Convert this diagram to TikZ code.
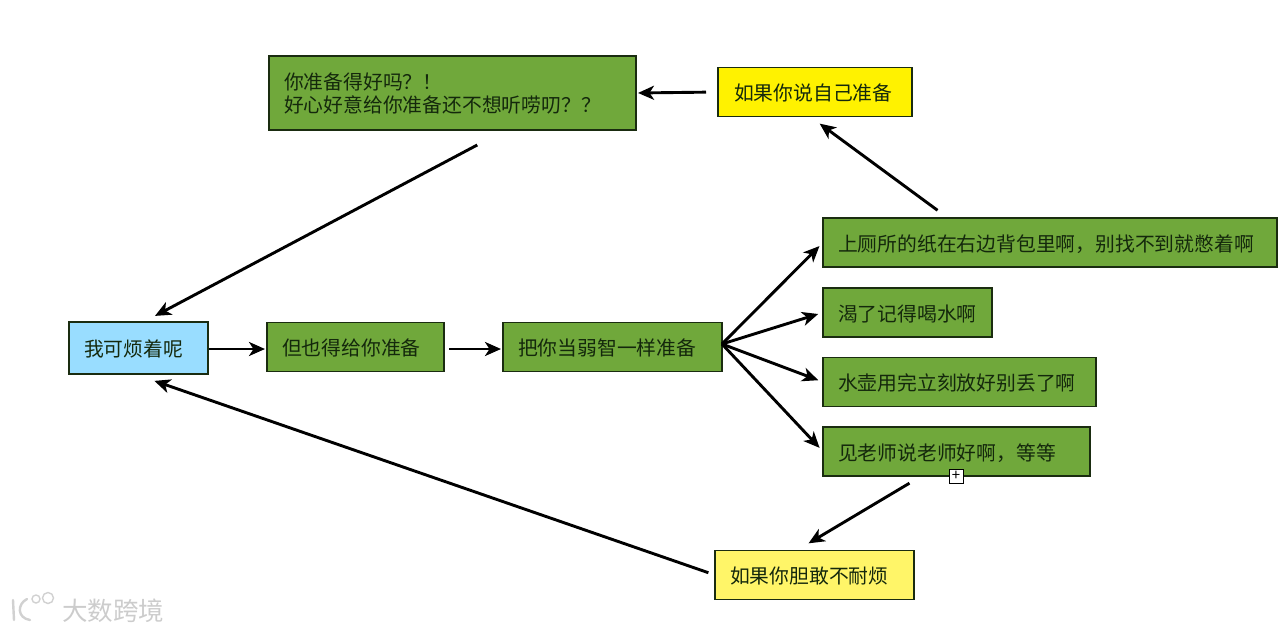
\documentclass[tikz,border=0pt]{standalone}
\usepackage{fontspec}
\setmainfont{Noto Sans CJK SC}
\usetikzlibrary{arrows.meta}
\definecolor{boxgreen}{HTML}{70A83B}
\definecolor{boxedge}{HTML}{1A2C10}
\definecolor{boxblue}{HTML}{99DDFF}
\definecolor{boxyellow}{HTML}{FFF200}
\definecolor{boxpale}{HTML}{FFF568}
\definecolor{inkgreen}{HTML}{14280C}
\tikzset{
  stepbox/.style={draw=boxedge,line width=1.8pt,fill=boxgreen,text=inkgreen,anchor=north west,
    align=left,inner xsep=15pt,inner ysep=0pt,outer sep=0pt,minimum height=49pt,
    text height=20.6pt,text depth=3pt,font=\fontsize{19.8}{23}\selectfont},
  flow/.style={line width=2.9pt,-{Stealth[length=16pt,width=14pt,inset=4.5pt]}},
}
\begin{document}
\begin{tikzpicture}[x=1pt,y=-1pt]
  \useasboundingbox (0,0) rectangle (1280,633);

  % Cajas
  \node[stepbox,text height=,text depth=,minimum height=74pt,text width=337pt] (ask) at (269,56) {你准备得好吗？！\\好心好意给你准备还不想听唠叨？？};
  \node[stepbox,fill=boxyellow,text width=164pt] (ready) at (718,67.5) {\hspace{1pt}如果你说自己准备};
  \node[stepbox,fill=boxblue,minimum height=52pt,text width=109pt] (me) at (69,322) {我可烦着呢};
  \node[stepbox,text width=147pt] (still) at (267,322.5) {但也得给你准备};
  \node[stepbox,text width=189pt] (fool) at (503,322.5) {把你当弱智一样准备};
  \node[stepbox,text width=424pt] (tipa) at (823,218) {上厕所的纸在右边背包里啊，别找不到就憋着啊};
  \node[stepbox,text width=139pt] (tipb) at (823,288) {渴了记得喝水啊};
  \node[stepbox,text width=243pt] (tipc) at (823,357.5) {水壶用完立刻放好别丢了啊};
  \node[stepbox,text width=237pt] (tipd) at (823,427) {见老师说老师好啊，等等};
  \node[stepbox,fill=boxpale,text width=169pt] (dare) at (715,550.5) {如果你胆敢不耐烦};

  % Marcador de la caja
  \node[draw=black,fill=white,line width=0.9pt,minimum size=14pt,inner sep=0pt,font=\fontsize{15}{15}\selectfont] (plus) at (956,476) {+};

  % Flechas
  \draw[flow,shorten <=12pt,shorten >=2pt] (ready.west) -- (ask.east);
  \draw[flow,shorten <=13pt,shorten >=12pt] ([xshift=-102pt]tipa.north) -- ([xshift=-5pt]ready.south);
  \draw[flow,shorten <=32pt,shorten >=13pt] ([xshift=53pt]ask.south) -- ([xshift=5pt]me.north);
  \draw[flow,shorten <=1pt,shorten >=2pt] ([yshift=-1pt]me.east) -- ([yshift=-2pt]still.west);
  \draw[flow,shorten <=5pt,shorten >=2pt] ([yshift=-2pt]still.east) -- ([yshift=-2pt]fool.west);
  \foreach \tip in {tipa,tipb,tipc,tipd} {
    \draw[flow,shorten >=5pt] ([yshift=3pt]fool.east) -- (\tip.west);
  }
  \draw[flow,shorten <=14pt,shorten >=14pt] ([xshift=-35pt]tipd.south) -- ([xshift=-18pt]dare.north);
  \draw[flow,shorten <=7pt,shorten >=21pt] (dare.west) -- ([xshift=-4pt]me.south);

  % Marca de agua
  \node[text=black!20,font=\fontsize{25.5}{25.5}\selectfont,inner sep=0pt] (mark) at (113,611) {大数跨境};
  \draw[black!18,line width=2.4pt,line cap=round] (13,600) -- (14,620);
  \draw[black!18,line width=2.4pt,line cap=round] (27,599) .. controls (17,604) and (17,618) .. (30,620);
  \draw[black!18,line width=1.4pt] (36,599) circle (4pt) (48,598) circle (5.5pt);
\end{tikzpicture}
\end{document}
